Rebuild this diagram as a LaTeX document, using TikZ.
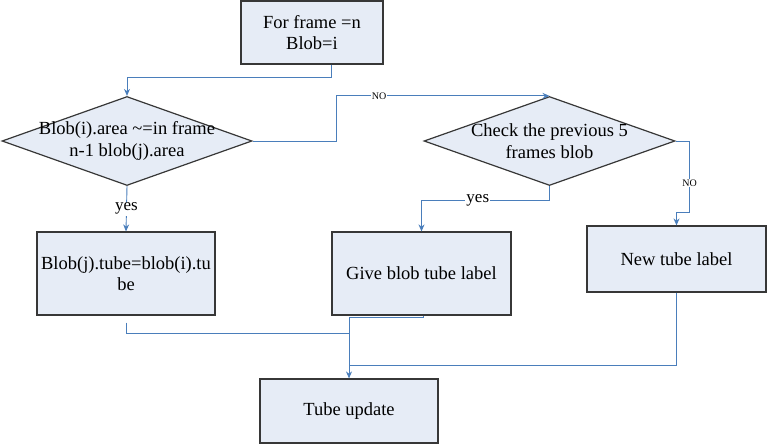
\documentclass[tikz,border=0pt]{standalone}
\usepackage{fontspec}
\setmainfont{Liberation Serif}
\newfontfamily\flowfont{Liberation Serif}
\usepackage{tikz}
\usetikzlibrary{arrows.meta,shapes.geometric,positioning}
\definecolor{flowblue}{RGB}{74,126,187}
\definecolor{boxfill}{RGB}{230,236,246}
\definecolor{boxline}{RGB}{55,55,55}

\begin{document}
\begin{tikzpicture}[x=1pt,y=-1pt,>={Stealth[length=7pt,width=6pt]},
  box/.style={rectangle,draw=boxline,fill=boxfill,line width=1.2pt,align=center,
    inner sep=1pt,font=\flowfont\fontsize{18.5}{21}\selectfont},
  decision/.style={diamond,draw=boxline,fill=boxfill,line width=1.2pt,inner sep=0pt,
    minimum width=250pt,minimum height=89pt},
  dtext/.style={align=center,font=\flowfont\fontsize{18.5}{22}\selectfont},
  flow/.style={draw=flowblue,line width=0.9pt},
  nolbl/.style={fill=white,inner sep=1pt,font=\flowfont\fontsize{10}{10}\selectfont},
  yeslbl/.style={fill=white,inner sep=1pt,font=\flowfont\fontsize{17}{17}\selectfont}]
  \useasboundingbox (0,0) rectangle (767,444);

  \node[box,minimum width=142pt,minimum height=63pt] (frame) at (312,32.5) {For frame =n\\Blob=i};
  \node[decision,label={[dtext]center:Blob(i).area \textasciitilde=in frame\\n-1 blob(j).area}] (match) at (127,141) {};
  \node[decision,minimum width=251pt,label={[dtext]center:Check the previous 5\\frames blob}] (check) at (549.5,141) {};
  \node[box,minimum width=178pt,minimum height=83pt] (keep) at (126,273.5) {Blob(j).tube=blob(i).tu\\be};
  \node[box,minimum width=179pt,minimum height=83pt] (give) at (421.5,273.5) {Give blob tube label};
  \node[box,minimum width=179pt,minimum height=66pt] (new) at (676.5,259) {New tube label};
  \node[box,minimum width=178pt,minimum height=64pt] (update) at (349,411) {Tube update};

  \coordinate (j1) at (349,333);
  \coordinate (j2) at (349,365);

  \draw[flow,->] ([xshift=19pt]frame.south) -- ++(0,13) -| (match.north);
  \draw[flow,->] (match.east) -- ++(84,0) |- node[pos=0.6,nolbl] {NO} (check.north);
  \draw[flow,->] (match.south) -- node[yeslbl] {yes} (keep.north);
  \draw[flow,->] (check.south) -- ++(0,14) -| node[pos=0.28,yeslbl] {yes} (give.north);
  \draw[flow,->] (check.east) -- ++(14,0) -- node[pos=0.59,nolbl] {NO} ++(0,71) -| (new.north);

  \draw[flow] ([yshift=-7pt]keep.south) |- (j1);
  \draw[flow,->] ([xshift=2pt]give.south) -- ++(0,2) -| (update.north);
  \draw[flow] (new.south) |- (j2);
\end{tikzpicture}
\end{document}
